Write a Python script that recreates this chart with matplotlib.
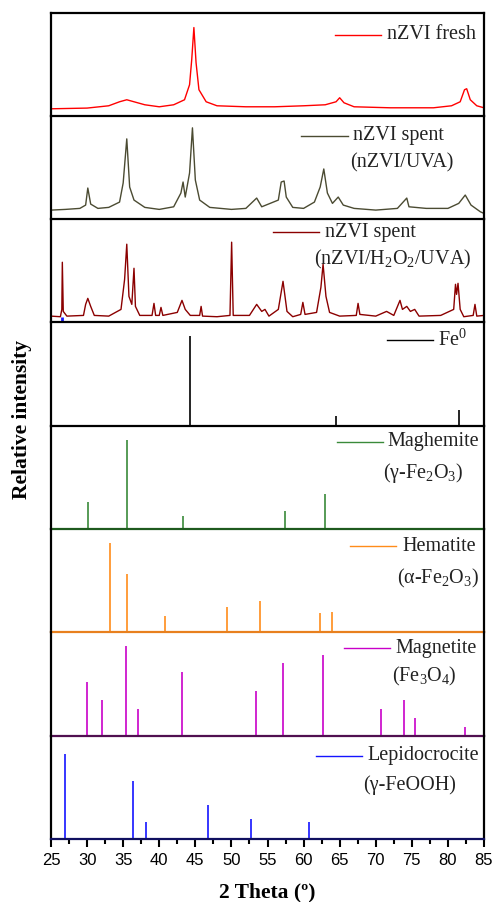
import matplotlib.pyplot as plt
from matplotlib.ticker import MultipleLocator

plt.rcParams['mathtext.default'] = 'regular'
plt.rcParams['font.family'] = 'Liberation Serif'

fresh_x = [25, 30, 33, 34.5, 35.5, 36.5, 38, 40, 42, 43.5, 44.2, 44.5, 44.8, 45.1,
           45.5, 46.5, 48, 52, 56, 60, 63, 64.5, 65, 65.6, 67, 72, 78, 80.5,
           81.7, 82.3, 82.6, 83.1, 84, 85]
fresh_y = [7, 7.7, 10, 14, 16, 14, 11, 9, 11, 16, 31, 56, 88, 53,
           26, 14, 10, 9, 9, 10, 11, 14, 18, 13, 9, 8, 8, 10,
           14, 26, 27, 16, 10, 8]

uva_x = [25, 27, 29, 29.8, 30.1, 30.5, 31.5, 33, 34.5, 35.0, 35.5, 35.9, 36.5, 38,
         40, 42, 43.0, 43.3, 43.6, 44.2, 44.6, 45.0, 45.6, 47, 50, 52, 53.5, 54.2,
         56.5, 56.9, 57.3, 57.6, 58.5, 60, 61.5, 62.3, 62.8, 63.3, 64, 64.8, 65.5,
         67, 70, 73, 74.3, 74.6, 77, 80, 81.5, 82.4, 83.2, 84.5, 85]
uva_y = [9, 9.7, 10.7, 14, 31, 15, 10.7, 11.7, 17, 36, 80, 32, 19, 11.7,
         9.7, 12.3, 26, 37, 22, 46, 91, 39, 19, 11.7, 9.7, 10.7, 21, 12.3,
         19, 37, 38, 22, 11.7, 10.7, 17, 32, 50, 26, 15.7, 22, 14,
         10.7, 9, 10.7, 21, 12.3, 10.7, 10.7, 15.7, 24, 14, 7.3, 5.7]

h2o2_x = [25, 26.3, 26.5, 26.57, 26.7, 27.2, 29.5, 29.8, 30.1, 30.5, 31, 33, 34.7,
          35.2, 35.5, 35.8, 36.2, 36.5, 36.7, 37.3, 39.0, 39.27, 39.5, 40.0, 40.24,
          40.5, 42.5, 43.15, 43.6, 44.3, 45.6, 45.8, 46.0, 48, 49.8, 50.03, 50.25,
          52.5, 53.5, 54.2, 54.65, 55.2, 56.5, 57.15, 57.7, 58.5, 59.6, 59.9, 60.2,
          61.8, 62.4, 62.7, 63.1, 63.6, 65, 67.3, 67.55, 67.8, 70, 71.5, 72.5,
          73.36, 73.7, 74.3, 74.8, 75.4, 76, 79, 80.8, 81.05, 81.2, 81.4, 81.7,
          82.2, 83.5, 83.75, 84.0, 85]
h2o2_y = [6.3, 5.7, 13, 60, 11, 6.3, 7, 18, 24, 16, 7, 6.3, 13,
          43, 78, 26, 18, 54, 16, 7, 7, 19, 7, 7, 15,
          7, 10, 22, 13, 7, 7, 16, 6.3, 5.7, 7, 80, 7,
          7, 18, 11, 13, 6.3, 13, 41, 11, 5.7, 8, 20, 8,
          10, 35, 58, 26, 10, 6.3, 7, 19, 8, 6.3, 11, 7,
          22, 13, 16, 11, 13, 6.3, 7, 13, 38, 28, 39, 13,
          5.7, 7, 18, 6.3, 7]

# reference patterns (stick positions and heights)
fe_pos = [44.3, 64.5, 81.6]
fe_h = [89, 10, 16]
magh_pos = [30.17, 35.6, 43.3, 57.4, 62.96]
magh_h = [27, 89, 13, 18, 35]
hem_pos = [33.12, 35.56, 40.77, 49.4, 53.97, 62.3, 63.9]
hem_h = [89, 58, 16, 25, 31, 19, 20]
mag_pos = [30.0, 32.1, 35.4, 37.05, 43.17, 53.47, 57.15, 62.68, 70.75, 73.9, 75.4, 82.4]
mag_h = [54, 36, 89, 27, 63, 45, 72, 80, 27, 36, 18, 9]
lep_pos = [26.98, 36.3, 38.1, 46.77, 52.7, 60.75]
lep_h = [85, 58, 17, 34, 20, 17]

fig, axs = plt.subplots(8, 1, figsize=(4.96, 9.02), dpi=100, sharex=True)
plt.subplots_adjust(left=51/496, right=484/496, top=1-12.5/902, bottom=1-839/902, hspace=0)

panels = [
    ('line', fresh_x, fresh_y, '#ff0000', '#000000', ['nZVI fresh'], 64.3, 81, 71.5, None, None),
    ('line', uva_x, uva_y, '#4b4b32', '#000000', ['nZVI spent', '(nZVI/UVA)'], 59.7, 83, 66.9, 66.4, 56),
    ('line', h2o2_x, h2o2_y, '#8b0000', '#000000', ['nZVI spent', '(nZVI/H$_2$O$_2$/UVA)'], 55.7, 90, 62.9, 61.5, 63),
    ('stick', fe_pos, fe_h, '#000000', '#000000', ['Fe$^0$'], 71.5, 85, 78.6, None, None),
    ('stick', magh_pos, magh_h, '#3a8a3a', '#1e5a1e', ['Maghemite', '(γ-Fe$_2$O$_3$)'], 64.6, 87, 71.6, 71.0, 56),
    ('stick', hem_pos, hem_h, '#ff8c1a', '#e8801e', ['Hematite', '(α-Fe$_2$O$_3$)'], 66.4, 86, 73.7, 73.0, 54),
    ('stick', mag_pos, mag_h, '#c800c8', '#501050', ['Magnetite', '(Fe$_3$O$_4$)'], 65.6, 87, 72.75, 72.2, 59),
    ('stick', lep_pos, lep_h, '#1414ff', '#101060', ['Lepidocrocite', '(γ-FeOOH)'], 61.7, 83, 68.9, 68.2, 54),
]

for i, (kind, xs, ys, col, bcol, lab, hx, hy, tx, tx2, ty2) in enumerate(panels):
    ax = axs[i]
    ax.patch.set_visible(False)
    if kind == 'line':
        ax.plot(xs, ys, '-', color=col, lw=1.0)
    else:
        ax.vlines(xs, 0, ys, color=col, lw=1.2)
    if i == 2:
        ax.vlines([26.57], 0, 5, color='#1a1aff', lw=2)
    # legend entry drawn by hand
    ax.plot([hx, hx + 6.4], [hy, hy], '-', color=col, lw=1.0)
    ax.text(tx, hy, lab[0], fontsize=14.5, color='#222222', va='center', ha='left')
    if len(lab) > 1:
        ax.text(tx2, ty2, lab[1], fontsize=14.5, color='#222222', va='center', ha='left')
    ax.set_xlim(25, 85)
    ax.set_ylim(0, 103)
    ax.set_yticks([])
    for s in ax.spines.values():
        s.set_linewidth(1.6)
    ax.spines['bottom'].set_color(bcol)
    ax.spines['bottom'].set_zorder(3)
    if i > 0:
        ax.spines['top'].set_visible(False)
    ax.tick_params(axis='x', which='both', bottom=False, labelbottom=False)

axl = axs[-1]
axl.xaxis.set_major_locator(MultipleLocator(5))
axl.xaxis.set_minor_locator(MultipleLocator(2.5))
axl.tick_params(axis='x', which='both', bottom=True, labelbottom=True, direction='out',
                color='#000000')
axl.tick_params(axis='x', which='major', length=6, width=1.5, pad=4)
axl.tick_params(axis='x', which='minor', length=3.5, width=1.5)
for t in axl.get_xticklabels():
    t.set_family('Liberation Sans')
    t.set_fontsize(12)

fig.text(267/496, 1-892/902, '2 Theta (º)', fontsize=15.5, fontweight='bold', ha='center', va='center')
fig.text(22/496, 1-420/902, 'Relative intensity', fontsize=15.5, fontweight='bold',
         rotation=90, ha='center', va='center')

fig.savefig('out.png', dpi=100)
